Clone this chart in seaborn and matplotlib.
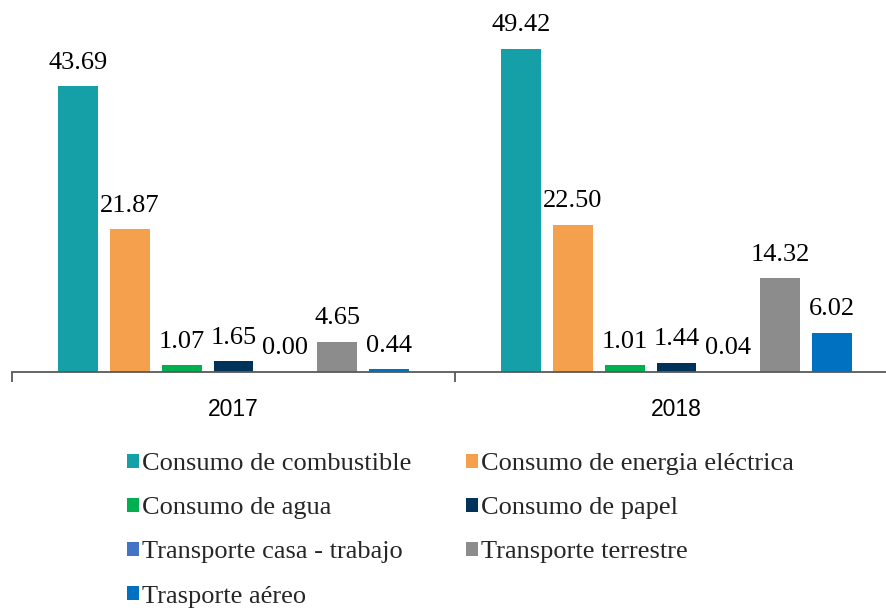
import matplotlib
matplotlib.use("Agg")
import matplotlib.pyplot as plt
from matplotlib.patches import Patch
import seaborn as sns
import pandas as pd

years = ["2017", "2018"]
sources = ["Consumo de combustible", "Consumo de energia eléctrica", "Consumo de agua",
           "Consumo de papel", "Transporte casa - trabajo", "Transporte terrestre",
           "Trasporte aéreo"]
values_2017 = [43.69, 21.87, 1.07, 1.65, 0.00, 4.65, 0.44]
values_2018 = [49.42, 22.50, 1.01, 1.44, 0.04, 14.32, 6.02]
colors = ["#14A0A6", "#F4A04C", "#00B050", "#003359", "#4472C4", "#8C8C8C", "#0070C0"]

rows = []
for y, vals in zip(years, [values_2017, values_2018]):
    for s, v in zip(sources, vals):
        rows.append({"year": y, "source": s, "value": v})
df = pd.DataFrame(rows)

sns.set_style("white")
fig = plt.figure(figsize=(8.87, 6.12), dpi=100)
ax = fig.add_axes([12/887, 240/612, 886/887, 372/612])

sns.barplot(data=df, x="year", y="value", hue="source", hue_order=sources,
            palette=colors, width=0.82, gap=0.23, saturation=1, ax=ax,
            legend=False, errorbar=None, edgecolor="none", linewidth=0)

for cont in ax.containers:
    ax.bar_label(cont, fmt="%.2f", padding=9, fontsize=19,
                 family="Liberation Serif", color="#000000")

ax.set_ylim(0, 56.9)
ax.set_xlim(-0.5, 1.5)
ax.set_xlabel("")
ax.set_ylabel("")
ax.set_yticks([])
for sp in ["left", "right", "top"]:
    ax.spines[sp].set_visible(False)
ax.spines["bottom"].set_color("#595959")
ax.spines["bottom"].set_linewidth(1.3)
ax.set_xticks([0, 1])
ax.set_xticklabels(years, fontsize=16.5, family="Liberation Sans", color="#000000")
ax.tick_params(axis="x", which="major", length=0, pad=19)
ax.set_xticks([-0.5, 0.5, 1.5], minor=True)
ax.tick_params(axis="x", which="minor", bottom=True, length=7, width=1.3,
               color="#595959", direction="out")

order = [0, 2, 4, 6, 1, 3, 5]
handles = [Patch(facecolor=colors[i], edgecolor="none") for i in order]
labels = [sources[i] for i in order]
fig.legend(handles, labels, loc="upper left", bbox_to_anchor=(127/887, (612-453)/612),
           bbox_transform=fig.transFigure, ncol=2, frameon=False, borderpad=0,
           borderaxespad=0, handlelength=0.45, handleheight=0.45, handletextpad=0.1,
           columnspacing=2.1, labelspacing=0.84,
           prop={"family": "Liberation Serif", "size": 19})

fig.savefig("out.png", dpi=100)
